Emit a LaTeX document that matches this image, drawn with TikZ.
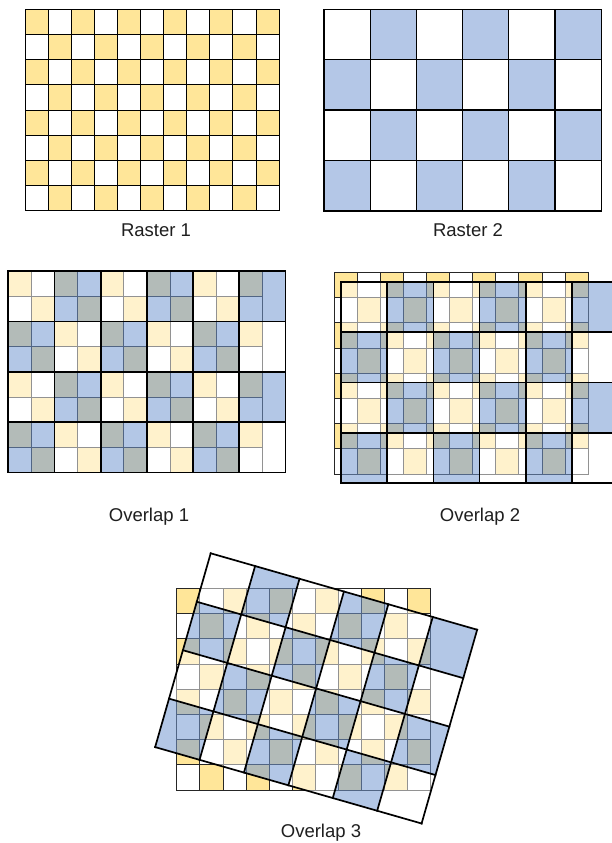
\documentclass[tikz,border=0pt]{standalone}
\usepackage{fontspec}
\setmainfont{Liberation Sans}
\definecolor{yel}{RGB}{255,230,153}
\definecolor{blu}{RGB}{180,199,231}
\definecolor{bluc}{RGB}{118,153,211}
\tikzset{
 ycell/.style={fill=yel},
 ygrid/.style={draw=black, line width=1pt, line cap=rect},
 oygrid/.style={draw=black!85, line width=0.8pt, line cap=rect},
 bcell/.style={fill=blu},
 wcell/.style={fill=white},
 obcell/.style={fill=bluc, fill opacity=0.55},
 owcell/.style={fill=white, fill opacity=0.5},
 bgrid/.style={draw=black, line width=1.3pt, line cap=rect},
 obgrid/.style={draw=black, line width=1.7pt, line cap=rect},
 lbl/.style={font=\fontsize{18.5}{20}\selectfont, anchor=base, inner sep=0pt, text=black!88}
}
\newcommand\cw{23.1}
\newcommand\ch{25.2}
\newcommand\yraster[1]{%
  \foreach \r in {0,...,7}{\foreach \c in {0,...,10}{%
    \pgfmathtruncatemacro{\pp}{mod(\r+\c,2)}%
    \ifnum\pp=0 \fill[ycell] (\c*\cw,\r*\ch) rectangle ++(\cw,\ch);\fi}}%
  \foreach \c in {0,...,11} \draw[#1] (\c*\cw,0) -- (\c*\cw,8*\ch);%
  \foreach \r in {0,...,8} \draw[#1] (0,\r*\ch) -- (11*\cw,\r*\ch);%
}
\newcommand\braster[3]{%
  \foreach \r in {0,...,3}{\foreach \c in {0,...,5}{%
    \pgfmathtruncatemacro{\pp}{mod(\r+\c,2)}%
    \ifnum\pp=1 \fill[#2] (\c*46.2,\r*50.4) rectangle ++(46.2,50.4);%
    \else \fill[#1] (\c*46.2,\r*50.4) rectangle ++(46.2,50.4);\fi}}%
  \foreach \c in {0,...,6} \draw[#3] (\c*46.2,0) -- (\c*46.2,201.6);%
  \foreach \r in {0,...,4} \draw[#3] (0,\r*50.4) -- (277.2,\r*50.4);%
}
\begin{document}
\begin{tikzpicture}[x=1pt,y=-1pt]
\useasboundingbox[fill=white] (0,0) rectangle (612,843);
% Raster 1
\begin{scope}[shift={(25,9.3)}]
  \yraster{ygrid}
\end{scope}
% Raster 2
\begin{scope}[shift={(324,9.3)}]
  \braster{wcell}{bcell}{bgrid}
\end{scope}
% Overlap 1
\begin{scope}[shift={(8.3,271)}]
  \yraster{oygrid}
  \braster{owcell}{obcell}{obgrid}
\end{scope}
% Overlap 2
\begin{scope}[shift={(334,272.3)}]
  \yraster{oygrid}
\end{scope}
\begin{scope}[shift={(341,281.7)}]
  \braster{owcell}{obcell}{obgrid}
\end{scope}
% Overlap 3
\begin{scope}[shift={(176.7,588.3)}]
  \yraster{oygrid}
\end{scope}
\begin{scope}[shift={(210.7,553.3)}, rotate=-16]
  \braster{owcell}{obcell}{obgrid}
\end{scope}
% labels
\node[lbl] (r1) at (156,236) {Raster 1};
\node[lbl] (r2) at (468,236) {Raster 2};
\node[lbl] (o1) at (149,521.7) {Overlap 1};
\node[lbl] (o2) at (480,521.7) {Overlap 2};
\node[lbl] (o3) at (321,837) {Overlap 3};
\end{tikzpicture}
\end{document}
